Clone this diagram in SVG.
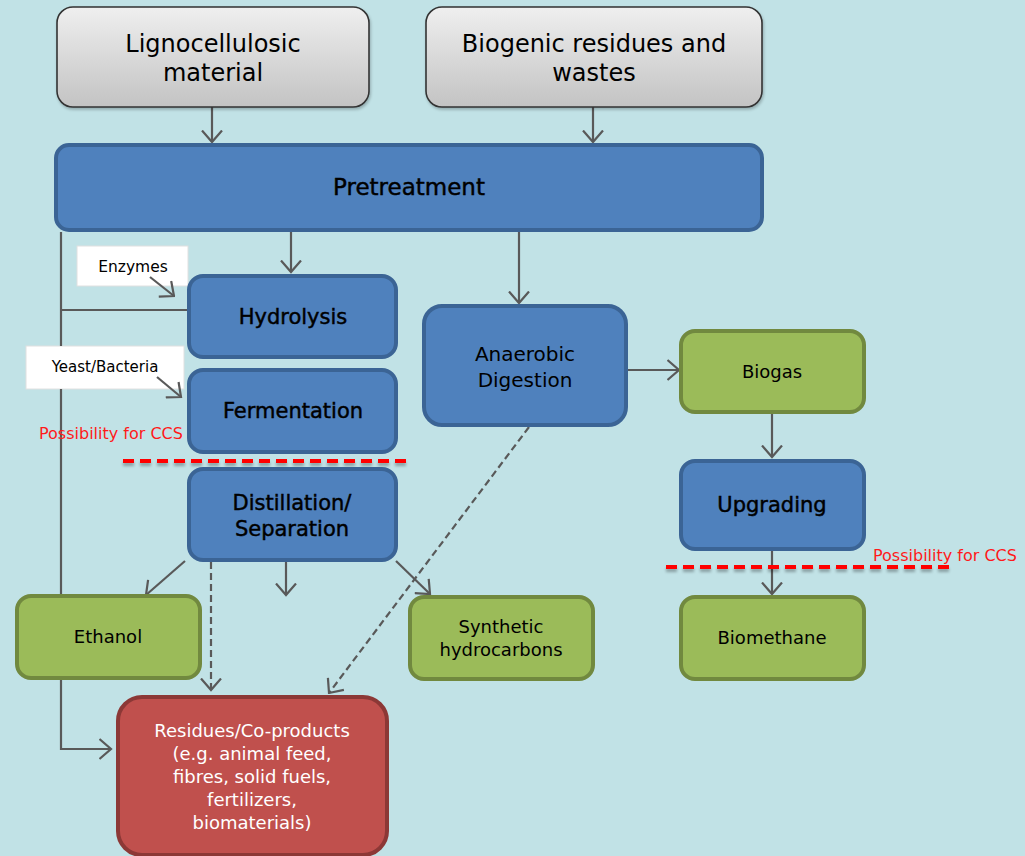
<svg xmlns="http://www.w3.org/2000/svg" width="1025" height="856" viewBox="0 0 1025 856">
<defs>
<linearGradient id="gray" x1="0" y1="0" x2="0" y2="1">
<stop offset="0" stop-color="#efefef"/>
<stop offset="1" stop-color="#c3c3c3"/>
</linearGradient>
<marker id="ah" viewBox="0 0 14 22" refX="12.5" refY="11" markerWidth="14" markerHeight="22" markerUnits="userSpaceOnUse" orient="auto">
<path d="M1,1 L12.5,11 L1,21" fill="none" stroke="#595959" stroke-width="2.2"/>
</marker>
<filter id="sh" filterUnits="userSpaceOnUse" x="0" y="0" width="1025" height="856">
<feGaussianBlur in="SourceAlpha" stdDeviation="1.5"/>
<feOffset dy="3"/>
<feComponentTransfer><feFuncA type="linear" slope="0.3"/></feComponentTransfer>
<feMerge><feMergeNode/><feMergeNode in="SourceGraphic"/></feMerge>
</filter>
<filter id="bs" x="-5%" y="-5%" width="110%" height="115%">
<feGaussianBlur in="SourceAlpha" stdDeviation="1.5"/>
<feOffset dx="1" dy="2"/>
<feComponentTransfer><feFuncA type="linear" slope="0.25"/></feComponentTransfer>
<feMerge><feMergeNode/><feMergeNode in="SourceGraphic"/></feMerge>
</filter>
</defs>
<style>
text{font-family:"DejaVu Sans","Liberation Sans",sans-serif;text-anchor:middle;fill:#000}
.src{fill:url(#gray);stroke:#333;stroke-width:1.6}
.blue{fill:#4f81bd;stroke:#3b6495;stroke-width:4}
.green{fill:#9bbb59;stroke:#71893f;stroke-width:4}
.red{fill:#c0504d;stroke:#8c3836;stroke-width:4}
.lbl{fill:#fff;stroke:#e0e0e0;stroke-width:1}
.semi{stroke:#000;stroke-width:0.45}
.wt{fill:#fff}
.ccs{fill:#ff1a1a;text-anchor:start;font-size:16px}
.ln{fill:none;stroke:#595959;stroke-width:2.2}
.dash{fill:none;stroke:#595959;stroke-width:2.2;stroke-dasharray:7,4}
.rdash{fill:none;stroke:#ff0000;stroke-width:4;stroke-dasharray:11,6}
</style>
<rect x="0" y="0" width="1025" height="856" fill="#c1e2e6"/>

<g id="n-enzymes">
<rect class="lbl" x="77" y="246" width="111" height="40"/>
<text x="133" y="272" font-size="15.5">Enzymes</text>
</g>
<g id="n-yeast">
<rect class="lbl" x="26" y="346" width="158" height="43"/>
<text x="105" y="372" font-size="15">Yeast/Bacteria</text>
</g>

<g id="connectors">
<path class="ln" d="M61,232 V346 M61,389 V749 H111" marker-end="url(#ah)"/>
<path class="ln" d="M61,310 H189"/>
<path class="ln" d="M212,107 V142" marker-end="url(#ah)"/>
<path class="ln" d="M593,107 V142" marker-end="url(#ah)"/>
<path class="ln" d="M291,231 V272" marker-end="url(#ah)"/>
<path class="ln" d="M519,231 V303" marker-end="url(#ah)"/>
<path class="ln" d="M627,370 H679" marker-end="url(#ah)"/>
<path class="ln" d="M772,413 V457" marker-end="url(#ah)"/>
<path class="ln" d="M772,550 V594" marker-end="url(#ah)"/>
<path class="ln" d="M150,277 L174,296" marker-end="url(#ah)"/>
<path class="ln" d="M157,377 L181,397" marker-end="url(#ah)"/>
<path class="ln" d="M185,561 L146,595" marker-end="url(#ah)"/>
<path class="ln" d="M286,561 V595" marker-end="url(#ah)"/>
<path class="ln" d="M396,561 L430,594" marker-end="url(#ah)"/>
<path class="dash" d="M211,562 V690" marker-end="url(#ah)"/>
<path class="dash" d="M529,427 L329,693" marker-end="url(#ah)"/>
</g>

<g id="n-ligno">
<rect class="src" x="57" y="7" width="312" height="100" rx="16" filter="url(#bs)"/>
<text x="213" y="52" font-size="24">Lignocellulosic</text>
<text x="213" y="81" font-size="24">material</text>
</g>
<g id="n-biogenic">
<rect class="src" x="426" y="7" width="336" height="100" rx="16" filter="url(#bs)"/>
<text x="594" y="52" font-size="24">Biogenic residues and</text>
<text x="594" y="81" font-size="24">wastes</text>
</g>
<g id="n-pretreatment">
<rect class="blue" x="56" y="145" width="706" height="85" rx="13"/>
<text class="semi" x="409" y="195" font-size="23">Pretreatment</text>
</g>
<g id="n-hydrolysis">
<rect class="blue" x="189" y="276" width="207" height="81" rx="14"/>
<text class="semi" x="293" y="324" font-size="21">Hydrolysis</text>
</g>
<g id="n-fermentation">
<rect class="blue" x="189" y="370" width="207" height="82" rx="14"/>
<text class="semi" x="293" y="418" font-size="21">Fermentation</text>
</g>
<g id="n-ccs1">
<text class="ccs" x="39" y="439">Possibility for CCS</text>
<path class="rdash" d="M123,461 H407" filter="url(#sh)"/>
</g>
<g id="n-distillation">
<rect class="blue" x="189" y="469" width="207" height="91" rx="14"/>
<text class="semi" x="292" y="510" font-size="21">Distillation/</text>
<text class="semi" x="292" y="536" font-size="21">Separation</text>
</g>
<g id="n-anaerobic">
<rect class="blue" x="424" y="306" width="202" height="119" rx="18"/>
<text x="525" y="361" font-size="20">Anaerobic</text>
<text x="525" y="387" font-size="20">Digestion</text>
</g>
<g id="n-biogas">
<rect class="green" x="681" y="331" width="183" height="81" rx="14"/>
<text x="772" y="378" font-size="18">Biogas</text>
</g>
<g id="n-upgrading">
<rect class="blue" x="681" y="461" width="183" height="88" rx="14"/>
<text class="semi" x="772" y="512" font-size="21">Upgrading</text>
</g>
<g id="n-ccs2">
<text class="ccs" x="873" y="561">Possibility for CCS</text>
<path class="rdash" d="M666,567 H950" filter="url(#sh)"/>
</g>
<g id="n-biomethane">
<rect class="green" x="681" y="597" width="183" height="82" rx="14"/>
<text x="772" y="644" font-size="18">Biomethane</text>
</g>
<g id="n-ethanol">
<rect class="green" x="17" y="596" width="183" height="82" rx="14"/>
<text x="108" y="643" font-size="18">Ethanol</text>
</g>
<g id="n-synthetic">
<rect class="green" x="410" y="597" width="183" height="82" rx="14"/>
<text x="501" y="633" font-size="18">Synthetic</text>
<text x="501" y="656" font-size="18">hydrocarbons</text>
</g>
<g id="n-residues">
<rect class="red" x="118" y="697" width="269" height="158" rx="24"/>
<text class="wt" x="252" y="737" font-size="18">Residues/Co-products</text>
<text class="wt" x="252" y="760" font-size="18">(e.g. animal feed,</text>
<text class="wt" x="252" y="783" font-size="18">fibres, solid fuels,</text>
<text class="wt" x="252" y="806" font-size="18">fertilizers,</text>
<text class="wt" x="252" y="829" font-size="18">biomaterials)</text>
</g>
</svg>
